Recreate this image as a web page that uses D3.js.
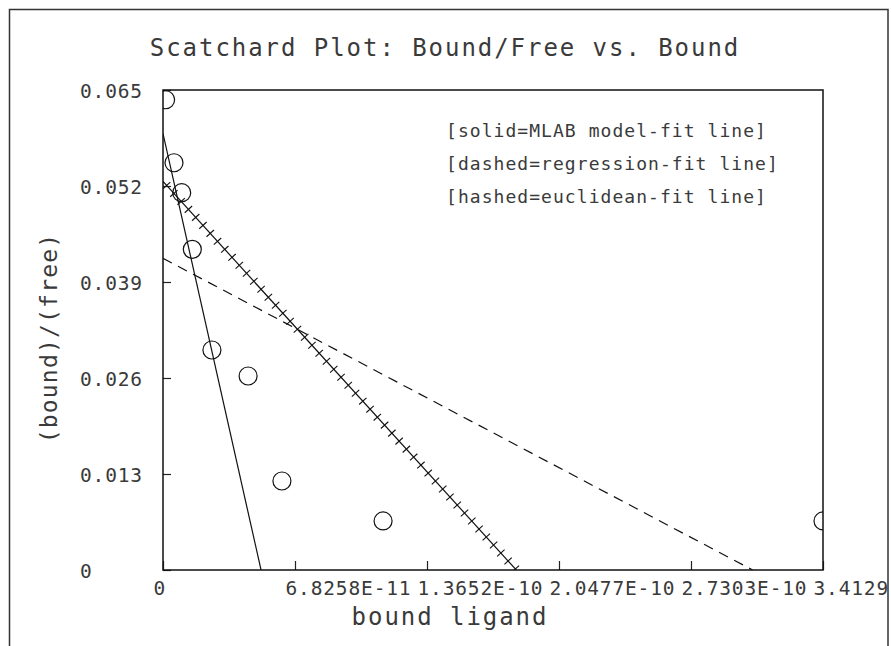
<!DOCTYPE html>
<html>
<head>
<meta charset="utf-8">
<script src="https://cdn.jsdelivr.net/npm/d3@7/dist/d3.min.js"></script>
<style>
  html, body { margin: 0; padding: 0; background: #fff; }
  svg { display: block; }
  text { font-family: "DejaVu Sans Mono", "Liberation Mono", monospace; fill: #3a3a3a; }
</style>
</head>
<body>
<svg id="chart" width="891" height="646"></svg>
<script>
// ---- data ----
const titleText = "Scatchard Plot: Bound/Free vs. Bound";
const xAxisTitle = "bound ligand";
const yAxisTitle = "(bound)/(free)";
const legendLines = ["[solid=MLAB model-fit line]", "[dashed=regression-fit line]", "[hashed=euclidean-fit line]"];

const boundX = [1.34e-12, 5.69e-12, 9.67e-12, 1.516e-11, 2.53e-11, 4.4e-11, 6.15e-11, 1.138e-10, 3.4129e-10];
const ratioY = [0.06368, 0.05515, 0.05109, 0.04342, 0.02979, 0.02627, 0.01205, 0.00664, 0.00664];

const xTickValues = [0, 6.8258e-11, 1.3652e-10, 2.0477e-10, 2.7303e-10, 3.4129e-10];
const xTickLabels = ["0", "6.8258E-11", "1.3652E-10", "2.0477E-10", "2.7303E-10", "3.4129E-10"];
const yTickValues = [0, 0.013, 0.026, 0.039, 0.052, 0.065];
const yTickLabels = ["0", "0.013", "0.026", "0.039", "0.052", "0.065"];

// fit lines: [x, y] endpoints (intercepts)
const solidFit = [[0, 0.0591], [5.07e-11, 0]];
const dashedFit = [[0, 0.04221], [3.049e-10, 0]];
const hashedFit = [[0, 0.05262], [1.827e-10, 0]];

// ---- layout ----
const plot = { left: 163, top: 90, right: 823, bottom: 570 };
const svg = d3.select("#chart");

const x = d3.scaleLinear().domain([0, 3.4129e-10]).range([plot.left, plot.right]);
const y = d3.scaleLinear().domain([0, 0.065]).range([plot.bottom, plot.top]);

const defs = svg.append("defs");
defs.append("clipPath").attr("id", "plotClip")
  .append("rect").attr("x", plot.left).attr("y", plot.top)
  .attr("width", plot.right - plot.left).attr("height", plot.bottom - plot.top);
defs.append("clipPath").attr("id", "outerClip")
  .append("rect").attr("x", 9).attr("y", 9).attr("width", 879).attr("height", 660);

// outer border
svg.append("rect").attr("x", 9.5).attr("y", 9.5).attr("width", 878.5).attr("height", 660)
  .attr("fill", "none").attr("stroke", "#333").attr("stroke-width", 1.5);

const outer = svg.append("g").attr("clip-path", "url(#outerClip)");

// title
outer.append("text").attr("x", 445).attr("y", 56).attr("text-anchor", "middle")
  .style("font-size", "24px").style("letter-spacing", "1.95px").text(titleText);

// axes
const xAxis = d3.axisBottom(x).tickValues(xTickValues).tickSize(-9).tickFormat((d, i) => xTickLabels[i]);
const gx = outer.append("g").attr("transform", `translate(0,${plot.bottom})`).call(xAxis);
gx.select(".domain").remove();
gx.selectAll(".tick line").attr("stroke", "#222").attr("stroke-width", 1.2);
gx.selectAll(".tick text").attr("text-anchor", "start").attr("x", -10).attr("y", 25).attr("dy", null)
  .style("font-size", "19.5px").style("letter-spacing", "0.85px").attr("fill", "#3a3a3a");

const yAxis = d3.axisLeft(y).tickValues(yTickValues).tickSize(-8).tickFormat((d, i) => yTickLabels[i]);
const gy = outer.append("g").attr("transform", `translate(${plot.left},0)`).call(yAxis);
gy.select(".domain").remove();
gy.selectAll(".tick line").attr("stroke", "#222").attr("stroke-width", 1.2);
gy.selectAll(".tick text").attr("text-anchor", "start").attr("x", 80 - plot.left).attr("dy", "0.36em")
  .style("font-size", "19.5px").style("letter-spacing", "0.85px").attr("fill", "#3a3a3a");

// axis titles
outer.append("text").attr("x", 450).attr("y", 625).attr("text-anchor", "middle")
  .style("font-size", "24px").style("letter-spacing", "1.95px").text(xAxisTitle);
outer.append("text").attr("transform", "translate(57,338) rotate(-90)").attr("text-anchor", "middle")
  .style("font-size", "23px").style("letter-spacing", "1.2px").text(yAxisTitle);

// plot frame
svg.append("rect").attr("x", plot.left).attr("y", plot.top)
  .attr("width", plot.right - plot.left).attr("height", plot.bottom - plot.top)
  .attr("fill", "none").attr("stroke", "#111").attr("stroke-width", 1.5);

// legend text
legendLines.forEach((t, i) => {
  svg.append("text").attr("x", 446).attr("y", 137 + i * 33)
    .style("font-size", "18px").style("letter-spacing", "1.05px").text(t);
});

const pg = svg.append("g").attr("clip-path", "url(#plotClip)");
const line = d3.line().x(d => x(d[0])).y(d => y(d[1]));

// solid MLAB fit
pg.append("path").attr("d", line(solidFit)).attr("fill", "none").attr("stroke", "#111").attr("stroke-width", 1.2);
// dashed regression fit
pg.append("path").attr("d", line(dashedFit)).attr("fill", "none").attr("stroke", "#111")
  .attr("stroke-width", 1.2).attr("stroke-dasharray", "10,7");
// hashed euclidean fit
pg.append("path").attr("d", line(hashedFit)).attr("fill", "none").attr("stroke", "#111").attr("stroke-width", 1.2);
{
  const x0 = x(hashedFit[0][0]), y0 = y(hashedFit[0][1]);
  const x1 = x(hashedFit[1][0]), y1 = y(hashedFit[1][1]);
  const len = Math.hypot(x1 - x0, y1 - y0);
  const ux = (x1 - x0) / len, uy = (y1 - y0) / len;
  const px = -uy, py = ux; // perpendicular
  const step = 10.8, half = 5;
  const marks = d3.range(step / 2, len, step);
  pg.selectAll("line.hash").data(marks).join("line").attr("class", "hash")
    .attr("x1", s => x0 + ux * s - px * half).attr("y1", s => y0 + uy * s - py * half)
    .attr("x2", s => x0 + ux * s + px * half).attr("y2", s => y0 + uy * s + py * half)
    .attr("stroke", "#111").attr("stroke-width", 1.1);
}

// data points
pg.selectAll("circle.pt").data(boundX.map((b, i) => [b, ratioY[i]])).join("circle").attr("class", "pt")
  .attr("cx", d => x(d[0])).attr("cy", d => y(d[1])).attr("r", 9)
  .attr("fill", "none").attr("stroke", "#111").attr("stroke-width", 1.2);
</script>
</body>
</html>
